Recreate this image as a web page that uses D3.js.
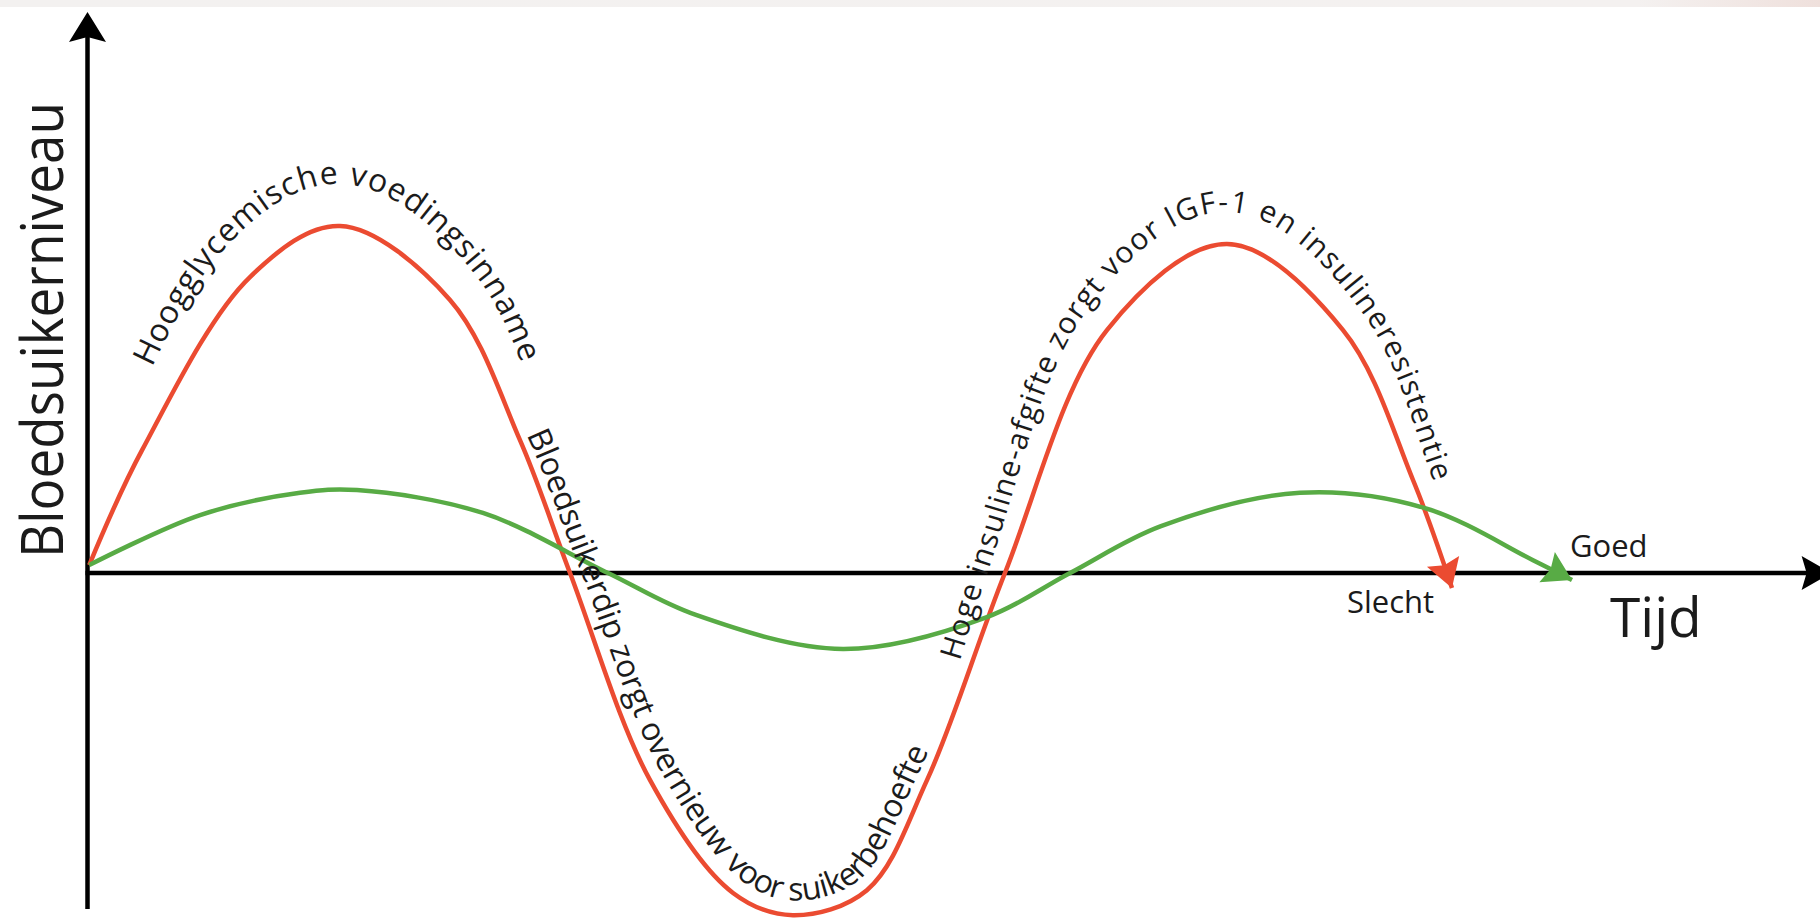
<!DOCTYPE html>
<html><head><meta charset="utf-8">
<script src="https://cdn.jsdelivr.net/npm/d3@7/dist/d3.min.js"></script>
<style>html,body{margin:0;padding:0;background:#fff;overflow:hidden}svg{display:block}</style>
</head><body>
<script>
// ---------- data (time 0-100, relative blood sugar level) ----------
const redTime   = [0.1, 3.15, 9.38, 14.58, 20.93, 24.97, 27.86, 32.48, 37.27, 40.73, 45.0, 48.47, 52.97, 58.86, 65.79, 72.49, 76.53, 78.78];
const redLevel  = [0.023, 0.354, 0.853, 1.0, 0.787, 0.383, 0, -0.597, -0.922, -0.986, -0.914, -0.597, 0, 0.700, 0.948, 0.700, 0.268, -0.043];
const greenTime  = [0.1, 6.50, 12.27, 15.56, 22.83, 30.05, 35.13, 43.62, 51.93, 56.73, 61.98, 70.0, 77.22, 83.46, 85.71];
const greenLevel = [0.023, 0.167, 0.231, 0.239, 0.173, 0, -0.121, -0.219, -0.127, 0, 0.135, 0.231, 0.187, 0.037, -0.020];

const yTitle = "Bloedsuikerniveau";
const xTitle = "Tijd";
const endLabels = ["Slecht", "Goed"];
const curveLabels = ["Hoogglycemische voedingsinname",
                     "Bloedsuikerdip zorgt overnieuw voor suikerbehoefte",
                     "Hoge insuline-afgifte  zorgt voor IGF-1 en insulineresistentie"];
const curveLabelFrom = [5.2, 24.9, 51.0];   // time where label starts on red curve
const curveLabelTo   = [23.6, 49.3, 77.0];  // time where label ends
const xAxisExtent = [0, 100.7];
const yAxisExtent = [-0.968, 1.617];

// ---------- layout ----------
const W = 1820, H = 919;
const RED = "#eb4b31", GREEN = "#58ab45", INK = "#1b1b1b";
const FONT = "'Open Sans', 'Noto Sans', sans-serif";

const svg = d3.select("body").append("svg").attr("width", W).attr("height", H);
const defs = svg.append("defs");
const grad = defs.append("linearGradient").attr("id", "topg");
grad.append("stop").attr("offset", "0").attr("stop-color", "#f3f1f0");
grad.append("stop").attr("offset", "0.9").attr("stop-color", "#f4f1f0");
grad.append("stop").attr("offset", "1").attr("stop-color", "#efe0dc");
svg.append("rect").attr("x", 0).attr("y", 0).attr("width", W).attr("height", 7).attr("fill", "url(#topg)");

const x = d3.scaleLinear().domain([0, 100]).range([87.5, 1819.5]);
const y = d3.scaleLinear().domain([-1, 1]).range([920, 226]);

function arrowHead(g, tipX, tipY, dx, dy, len, half, notch, color) {
  const m = Math.hypot(dx, dy); dx /= m; dy /= m;
  const bx = tipX - dx * len, by = tipY - dy * len;
  const nx = -dy, ny = dx;
  const p = [[tipX, tipY], [bx + nx * half, by + ny * half], [tipX - dx * (len - notch), tipY - dy * (len - notch)], [bx - nx * half, by - ny * half]];
  g.append("path").attr("d", "M" + p.map(q => q.join(",")).join("L") + "Z").attr("fill", color);
}

// ---------- axes ----------
const axes = svg.append("g");
const x0 = x(0), y0 = y(0);
axes.append("line").attr("x1", x0).attr("x2", x0).attr("y1", y(yAxisExtent[0])).attr("y2", y(yAxisExtent[1]) + 20)
  .attr("stroke", "#000").attr("stroke-width", 4.5);
arrowHead(axes, x0, y(yAxisExtent[1]), 0, -1, 30, 18.5, 5, "#000");
axes.append("line").attr("x1", x0 - 2).attr("x2", x(xAxisExtent[1]) - 20).attr("y1", y0).attr("y2", y0)
  .attr("stroke", "#000").attr("stroke-width", 4.5);
arrowHead(axes, x(xAxisExtent[1]), y0, 1, 0, 30, 17, 5, "#000");

// ---------- curves ----------
const line = d3.line().x(d => x(d[0])).y(d => y(d[1])).curve(d3.curveCatmullRom.alpha(0.5));
const redData = redTime.map((t, i) => [t, redLevel[i]]);
const greenData = greenTime.map((t, i) => [t, greenLevel[i]]);

function drawSeries(data, color) {
  const p = svg.append("path").datum(data).attr("d", line).attr("fill", "none")
    .attr("stroke", color).attr("stroke-width", 4.5).attr("stroke-linecap", "butt");
  const node = p.node(), L = node.getTotalLength();
  const a = node.getPointAtLength(L - 10), b = node.getPointAtLength(L);
  arrowHead(svg, b.x, b.y, b.x - a.x, b.y - a.y, 28, 17, 4, color);
  return node;
}
const redNode = drawSeries(redData, RED);
drawSeries(greenData, GREEN);

// ---------- labels following the red curve ----------
const labelOffset = [[30, 42, 30], [8, 15, 10], [12, 32, 18]]; // start, middle, end
const labelSize = [32, 32, 30];
function offsetPoints(node, dd, px0, px1) {
  const L = node.getTotalLength(), N = Math.ceil(L / 2), pts = [];
  for (let i = 0; i <= N; i++) {
    const s = i * L / N, p = node.getPointAtLength(s);
    if (p.x < px0 || p.x > px1) continue;
    const t = (p.x - px0) / (px1 - px0);
    const d = (1 - t) * dd[0] + t * dd[2] + (dd[1] - (dd[0] + dd[2]) / 2) * Math.sin(Math.PI * t);
    const a = node.getPointAtLength(Math.max(0, s - 10)), b = node.getPointAtLength(Math.min(L, s + 10));
    let tx = b.x - a.x, ty = b.y - a.y; const m = Math.hypot(tx, ty); tx /= m; ty /= m;
    pts.push([p.x + ty * d, p.y - tx * d]);
  }
  return pts;
}
const textG = svg.append("g").attr("fill", INK).style("font-family", FONT);
curveLabels.forEach((txt, i) => {
  const pts = offsetPoints(redNode, labelOffset[i], x(curveLabelFrom[i]), x(curveLabelTo[i]));
  const lp = defs.append("path").attr("id", "lp" + i).attr("d", d3.line().curve(d3.curveBasis)(pts));
  const pathLen = lp.node().getTotalLength();
  const meas = textG.append("text").style("font-size", labelSize[i] + "px").text(txt);
  const nat = meas.node().getComputedTextLength();
  meas.remove();
  const sp = (pathLen * 0.99 - nat) / txt.length;
  textG.append("text").style("font-size", labelSize[i] + "px").style("letter-spacing", sp + "px")
    .append("textPath").attr("href", "#lp" + i).attr("startOffset", 0).text(txt);
});

// ---------- straight labels ----------
textG.append("text").attr("transform", "translate(63,558) rotate(-90)")
  .attr("textLength", 456).attr("lengthAdjust", "spacingAndGlyphs")
  .style("font-size", "58px").text(yTitle);
textG.append("text").attr("x", 1610).attr("y", 637).style("font-size", "55px").text(xTitle);
textG.append("text").attr("x", 1347).attr("y", 613).style("font-size", "31px").text(endLabels[0]);
textG.append("text").attr("x", 1570).attr("y", 557).style("font-size", "31px").text(endLabels[1]);
</script>
</body></html>
